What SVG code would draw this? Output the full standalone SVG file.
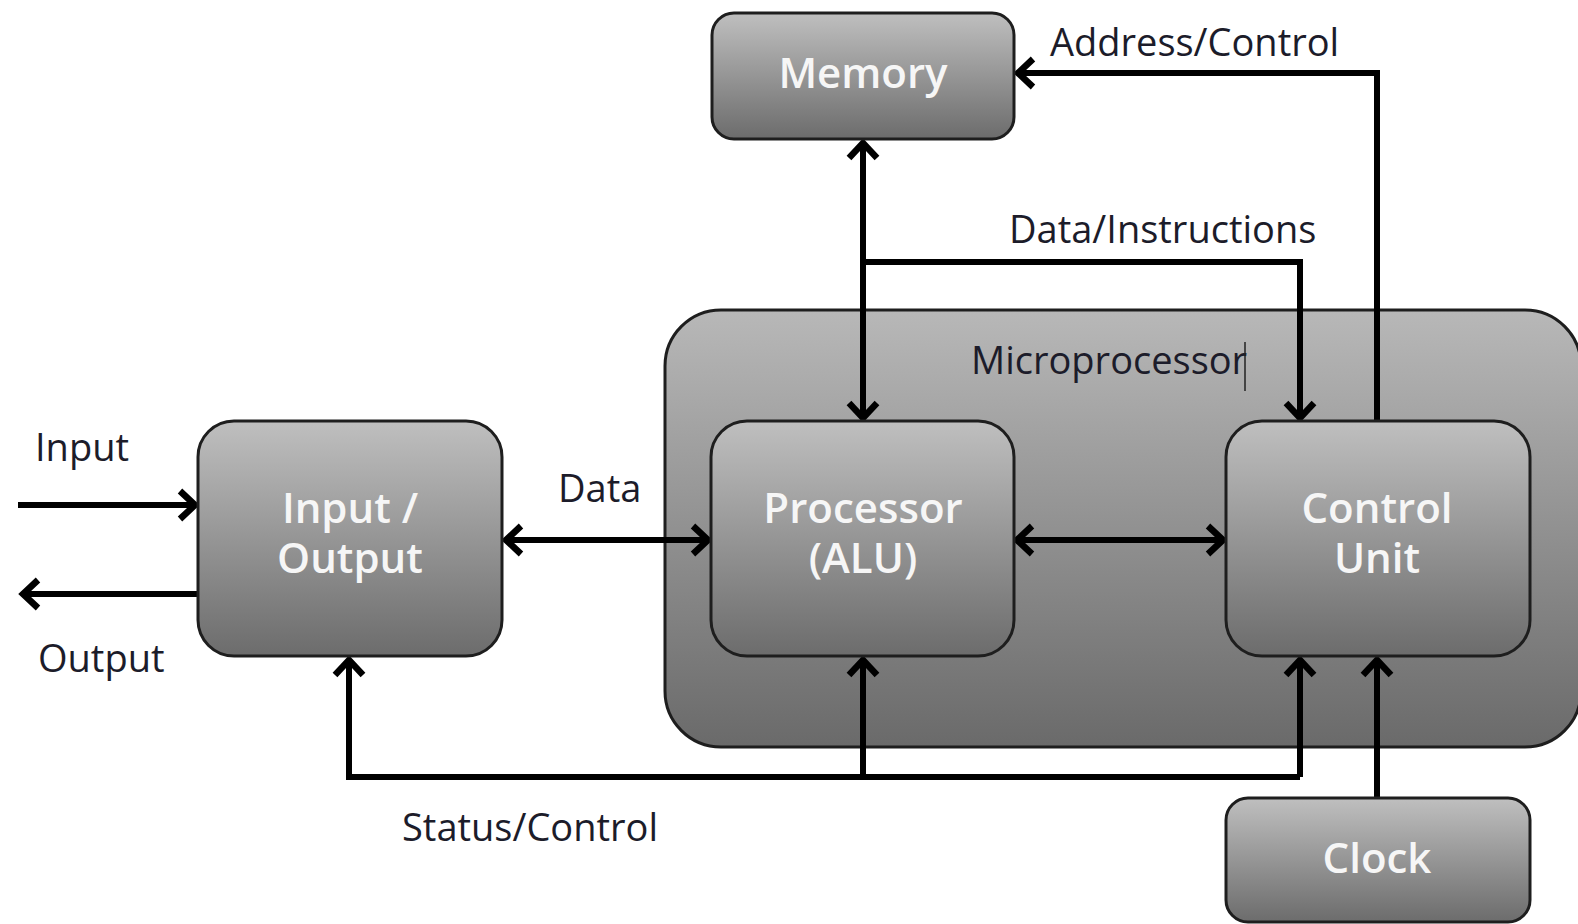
<svg xmlns="http://www.w3.org/2000/svg" width="1578" height="924" viewBox="0 0 1578 924">
  <style>
    .box { stroke: #1e1e1e; stroke-width: 3; }
    .node-text { font-family: "Open Sans", "DejaVu Sans", sans-serif; font-size: 42px; font-weight: 600; fill: #f6f6f6; text-anchor: middle; }
    .label { font-family: "Open Sans", "DejaVu Sans", sans-serif; font-size: 38px; font-weight: 500; fill: #1c1c2a; }
    .wire { fill: none; stroke: #000; stroke-width: 6; stroke-linejoin: miter; }
  </style>
  <defs>
    <linearGradient id="gBox" x1="0" y1="0" x2="0" y2="1">
      <stop offset="0" stop-color="#bfbfbf"/>
      <stop offset="1" stop-color="#6c6c6c"/>
    </linearGradient>
    <linearGradient id="gOuter" x1="0" y1="0" x2="0" y2="1">
      <stop offset="0" stop-color="#b8b8b8"/>
      <stop offset="1" stop-color="#6a6a6a"/>
    </linearGradient>
    <marker id="arrow" markerUnits="userSpaceOnUse" viewBox="-24 -20 30 40" refX="0" refY="0" markerWidth="30" markerHeight="40" orient="auto-start-reverse">
      <path d="M-15,-14 L0,0 L-15,14" fill="none" stroke="#000" stroke-width="6.5" stroke-linejoin="miter"/>
    </marker>
  </defs>

  <rect width="1578" height="924" fill="#ffffff"/>

  <!-- Microprocessor container -->
  <g id="microprocessor">
    <rect class="box" x="665" y="310" width="916" height="437" rx="56" fill="url(#gOuter)"/>
    <text class="label" x="971" y="374">Microprocessor</text>
    <line x1="1245" y1="342" x2="1245" y2="391" stroke="#222" stroke-width="1.5"/>
  </g>

  <!-- Connectors -->
  <g id="connectors">
    <!-- external input / output -->
    <line class="wire" x1="18" y1="505" x2="195" y2="505" marker-end="url(#arrow)"/>
    <line class="wire" x1="198" y1="594" x2="23" y2="594" marker-end="url(#arrow)"/>
    <!-- data bus I/O <-> ALU -->
    <line class="wire" x1="506" y1="540" x2="708" y2="540" marker-start="url(#arrow)" marker-end="url(#arrow)"/>
    <!-- ALU <-> control unit -->
    <line class="wire" x1="1017" y1="540" x2="1223" y2="540" marker-start="url(#arrow)" marker-end="url(#arrow)"/>
    <!-- memory <-> ALU -->
    <line class="wire" x1="863" y1="143" x2="863" y2="418" marker-start="url(#arrow)" marker-end="url(#arrow)"/>
    <!-- data / instructions to control unit -->
    <polyline class="wire" points="863,262 1300,262 1300,418" marker-end="url(#arrow)"/>
    <!-- address / control from control unit to memory -->
    <polyline class="wire" points="1377,421 1377,73 1018,73" marker-end="url(#arrow)"/>
    <!-- status / control bus -->
    <polyline class="wire" points="1300,777 349,777 349,660" marker-end="url(#arrow)"/>
    <line class="wire" x1="863" y1="777" x2="863" y2="660" marker-end="url(#arrow)"/>
    <line class="wire" x1="1300" y1="777" x2="1300" y2="660" marker-end="url(#arrow)"/>
    <!-- clock to control unit -->
    <line class="wire" x1="1377" y1="798" x2="1377" y2="660" marker-end="url(#arrow)"/>
  </g>

  <!-- Connector labels -->
  <g id="connector-labels">
    <text class="label" x="1050" y="56">Address/Control</text>
    <text class="label" x="1009" y="243">Data/Instructions</text>
    <text class="label" x="35" y="461">Input</text>
    <text class="label" x="38" y="672">Output</text>
    <text class="label" x="558" y="502">Data</text>
    <text class="label" x="402" y="841">Status/Control</text>
  </g>

  <g id="memory">
    <rect class="box" x="712" y="13" width="302" height="126" rx="22" fill="url(#gBox)"/>
    <text class="node-text" x="863" y="88">Memory</text>
  </g>

  <g id="io">
    <rect class="box" x="198" y="421" width="304" height="235" rx="36" fill="url(#gBox)"/>
    <text class="node-text" x="350" y="523">Input /<tspan x="350" dy="50">Output</tspan></text>
  </g>

  <g id="alu">
    <rect class="box" x="711" y="421" width="303" height="235" rx="36" fill="url(#gBox)"/>
    <text class="node-text" x="863" y="523">Processor<tspan x="863" dy="50">(ALU)</tspan></text>
  </g>

  <g id="control-unit">
    <rect class="box" x="1226" y="421" width="304" height="235" rx="36" fill="url(#gBox)"/>
    <text class="node-text" x="1377" y="523">Control<tspan x="1377" dy="50">Unit</tspan></text>
  </g>

  <g id="clock">
    <rect class="box" x="1226" y="798" width="304" height="124" rx="22" fill="url(#gBox)"/>
    <text class="node-text" x="1377" y="873">Clock</text>
  </g>
</svg>
